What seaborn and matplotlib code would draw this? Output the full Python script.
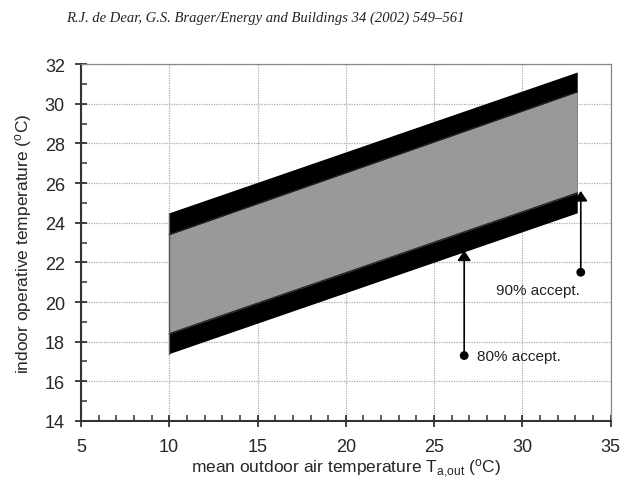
import numpy as np
import matplotlib
matplotlib.use("Agg")
import matplotlib.pyplot as plt
import seaborn as sns
from matplotlib.ticker import MultipleLocator

# comfort band edges (degC)
t_out = [10, 33.1]
upper_80 = [24.5, 31.6]
upper_90 = [23.4, 30.6]
lower_90 = [18.4, 25.5]
lower_80 = [17.4, 24.5]

# annotation arrows: x, tail (dot) y, head y
arrow_labels = ["80% accept.", "90% accept."]
arrow_x = [26.7, 33.3]
arrow_tail = [17.3, 21.5]
arrow_head = [22.6, 25.6]
label_x = [27.4, 28.5]
label_y = [17.3, 20.6]

sns.set_style("ticks")
plt.rcParams["font.family"] = ["Liberation Sans", "DejaVu Sans"]
plt.rcParams["mathtext.default"] = "regular"

fig = plt.figure(figsize=(6.22, 4.81), dpi=100)
ax = fig.add_axes([0.130, 0.1227, 0.852, 0.742])

ax.fill_between(t_out, lower_80, upper_80, color="black", lw=0, zorder=2)
ax.fill_between(t_out, lower_90, upper_90, color="#999999", lw=0, zorder=3)
sns.lineplot(x=t_out, y=upper_90, color="#222222", lw=1, ax=ax, zorder=4)
sns.lineplot(x=t_out, y=lower_90, color="#222222", lw=1, ax=ax, zorder=4)
ax.plot([t_out[0], t_out[0]], [lower_80[0], upper_80[0]], color="#555555", lw=1, zorder=4)

for i in range(len(arrow_labels)):
    ax.annotate("", xy=(arrow_x[i], arrow_head[i]), xytext=(arrow_x[i], arrow_tail[i]),
                arrowprops=dict(arrowstyle="-|>,head_length=0.6,head_width=0.4",
                                color="black", lw=1.2, shrinkA=0, shrinkB=0),
                zorder=6)
    ax.text(label_x[i], label_y[i], arrow_labels[i], fontsize=11, color="#222222",
            va="center", ha="left", zorder=6)
sns.scatterplot(x=arrow_x, y=arrow_tail, color="black", s=40, edgecolor="none",
                ax=ax, zorder=7)

ax.set_xlim(5, 35)
ax.set_ylim(14, 32)
ax.xaxis.set_major_locator(MultipleLocator(5))
ax.xaxis.set_minor_locator(MultipleLocator(1))
ax.yaxis.set_major_locator(MultipleLocator(2))
ax.yaxis.set_minor_locator(MultipleLocator(1))
ax.grid(True, which="major", color="#aaaaaa", ls=(0, (1, 1)), lw=0.9, zorder=0)
ax.set_axisbelow(True)

ax.tick_params(which="major", direction="inout", length=9, width=1.3,
               color="#333333", labelsize=13, pad=7)
ax.tick_params(which="minor", direction="in", length=4, width=1.1, color="#333333")
ax.tick_params(axis="x", which="major", pad=8)

for side in ["left", "bottom"]:
    ax.spines[side].set_linewidth(1.5)
    ax.spines[side].set_color("#333333")
for side in ["top", "right"]:
    ax.spines[side].set_visible(True)
    ax.spines[side].set_linewidth(0.9)
    ax.spines[side].set_color("#888888")

ax.set_ylabel("indoor operative temperature ($^{o}$C)", fontsize=12.5, labelpad=8)
ax.set_xlabel("mean outdoor air temperature T$_{a{,}out}$ ($^{o}$C)", fontsize=12.5, labelpad=1)

fig.text(0.426, 0.962, "R.J. de Dear, G.S. Brager/Energy and Buildings 34 (2002) 549\u2013561",
         family=["Liberation Serif", "DejaVu Serif"], style="italic", fontsize=10.5,
         ha="center", va="center", color="#222222")

fig.savefig("out.png", dpi=100)
